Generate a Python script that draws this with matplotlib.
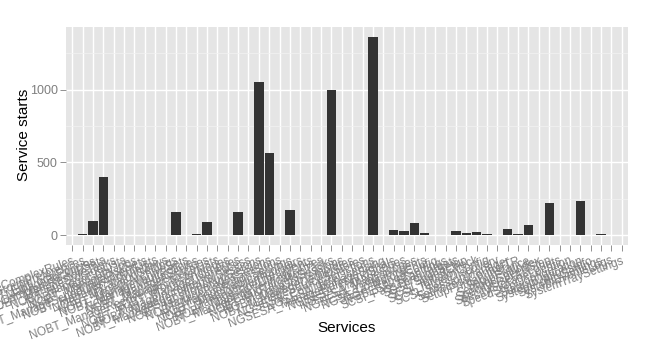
import matplotlib
matplotlib.use("Agg")
import matplotlib.pyplot as plt
from matplotlib.ticker import MultipleLocator

plt.rcParams['font.family'] = ['Liberation Sans', 'DejaVu Sans']

services = [
    "ManageComplexRules", "NOBT_ManageGroupPreferences", "NOBT_EditLocalPolicies",
    "NOBT_ManageBackupSets", "NOBT_CompleteRestoreTasks", "NOBT_ManageStorageLists",
    "NOBT_ManageCopyJobs", "NOBT_ManageDiskSets", "NOBT_ManageEventLists",
    "NOBT_ManageSchedulesAndWindows", "NOBT_ManageCatalogSettings", "NOBT_ManageArchiveSets",
    "NOBT_ManageVaultPolicies", "NOBT_ManageMediaServices", "NOBT_ManageDeviceLists",
    "NOBT_ManageClusterNodes", "NOBT_ManageRecoveryPointsAndImages", "NOBT_ManageUserAccess",
    "NOBT_ManageIncrementalSessions", "NOBT_ManageFullBackupSessions",
    "NOBT_ManageSnapshotImagesSessions", "NOBT_ManageRetentionSettings",
    "NOBT_ManageReplicationPairs", "NOBT_ManageAlertRecipients",
    "NOBT_ManageTapeLibraryDrives", "NOBT_ManageVerificationTasks",
    "NOBT_ManageCloudTargetsSessions", "NOBT_ManageJobTemplates",
    "NOBT_ManageDedupStores", "NOBT_ManageSourceSelections",
    "NGSESA_ConfigureLicensing", "NGSESA_ManageSignals",
    "NGSESA_ManageRulesAndScopes", "NGSESA_ManageScopes", "NGSESA_ManageAgents",
    "NGSESA_CollectorsConfig", "NGSESA_ReportSettings", "NGSESA_ScanTargets",
    "SCSI_PassThroughSetup", "SCSI_SpeedCheck", "SCSI_InitiatorConfig",
    "SCSI_TargetDiscovery", "SCSI_SessionManager", "SetAccessControlTR",
    "SetupPrimaryInstance", "SetupFullIndex", "SettingsSpeedStep",
    "SpecifyUserAccounts", "SpecifyStorageLocation", "SpeedStepConfiguration",
    "StartupOptionsInfo", "SystemPolicySettings", "SystemEventsLogs",
    "SystemTraySettings",
]
starts = [
    0, 5, 97, 400, 2, 0, 0, 0, 2, 2,
    159, 2, 9, 90, 0, 0, 161, 0, 1055, 563,
    0, 170, 4, 0, 2, 998, 2, 0, 3, 1363,
    2, 34, 30, 85, 14, 2, 2, 28, 14, 21,
    9, 2, 41, 5, 71, 0, 221, 3, 0, 237,
    4, 5, 2, 2,
]

fig = plt.figure(figsize=(6.48, 3.56), dpi=100)
ax = fig.add_axes([66/648, 1-245/356, (628-66)/648, (245-27)/356])
ax.set_facecolor('#E5E5E5')

x = list(range(1, len(services) + 1))
ax.bar(x, starts, width=0.9, color='#333333', zorder=3)

ymax = max(starts)
rng = ymax
ax.set_ylim(-0.05*rng, ymax + 0.05*rng)
ax.set_xlim(0.4, len(services) + 0.6)

ax.yaxis.set_major_locator(MultipleLocator(500))
ax.yaxis.set_minor_locator(MultipleLocator(250))
ax.grid(which='major', axis='both', color='white', linewidth=1.0, zorder=1)
ax.grid(which='minor', axis='y', color='#F2F2F2', linewidth=0.5, zorder=1)
ax.set_axisbelow(True)
for s in ax.spines.values():
    s.set_visible(False)

ax.set_xticks(x)
ax.set_xticklabels(services, rotation=20, ha='right', va='top',
                   rotation_mode='anchor', fontsize=8.5, color='#7F7F7F')
ax.tick_params(axis='x', which='major', length=4, color='#7F7F7F', width=0.6, pad=3)
ax.tick_params(axis='y', which='major', length=4, color='#7F7F7F', width=0.6,
               labelsize=9, labelcolor='#7F7F7F', pad=2)
ax.tick_params(axis='y', which='minor', length=0)

fig.text(347/648, 1-328/356, 'Services', ha='center', va='center', fontsize=11)
fig.text(24/648, 1-135/356, 'Service starts', ha='center', va='center',
         rotation=90, fontsize=11)

fig.savefig('out.png', dpi=100, facecolor='white')
